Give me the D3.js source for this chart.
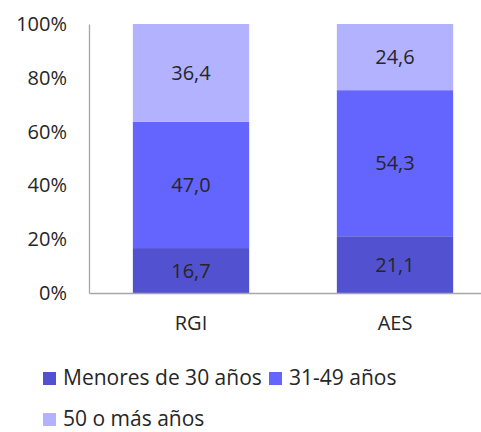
<!DOCTYPE html>
<html><head><meta charset="utf-8">
<script src="https://cdn.jsdelivr.net/npm/d3@7"></script>
<style>body{margin:0;background:#fff}svg{display:block}text{font-family:"Open Sans",sans-serif;fill:#262626}</style>
</head><body>
<script>
const categories = ["RGI", "AES"];
const seriesNames = ["Menores de 30 años", "31-49 años", "50 o más años"];
const menores30 = [16.7, 21.1];
const de31a49 = [47.0, 54.3];
const mas50 = [36.4, 24.6];
const yTicks = [0, 20, 40, 60, 80, 100];
const colors = ["#5252D0", "#6464FF", "#B2B2FF"];

const W = 481, H = 432;
const m = {left: 89, top: 24, bottom: 293, right: 497};
const svg = d3.select("body").append("svg").attr("width", W).attr("height", H);

const x = d3.scaleBand().domain(categories).range([m.left, m.right]).paddingInner(0.43).paddingOuter(0.215);
const y = d3.scaleLinear().domain([0, 100]).range([m.bottom, m.top]);

const rows = categories.map((c, i) => ({cat: c, s0: menores30[i], s1: de31a49[i], s2: mas50[i]}));
const stack = d3.stack().keys(["s0", "s1", "s2"]);
const layers = stack(rows);

layers.forEach((layer, li) => {
  const g = svg.append("g");
  g.selectAll("rect").data(layer).enter().append("rect")
    .attr("x", d => x(d.data.cat))
    .attr("width", x.bandwidth())
    .attr("y", d => y(Math.min(d[1], 100)))
    .attr("height", d => y(d[0]) - y(Math.min(d[1], 100)))
    .attr("fill", colors[li]);
  g.selectAll("text").data(layer).enter().append("text")
    .attr("x", d => x(d.data.cat) + x.bandwidth() / 2)
    .attr("y", d => (y(d[0]) + y(Math.min(d[1], 100))) / 2)
    .attr("dy", "0.36em")
    .attr("text-anchor", "middle")
    .style("font-size", "20px")
    .text(d => (d[1] - d[0]).toFixed(1).replace(".", ","));
});

// y axis
const yAxis = svg.append("g").attr("transform", `translate(${m.left},0)`)
  .call(d3.axisLeft(y).tickValues(yTicks).tickSize(0).tickPadding(22).tickFormat(d => d + "%"));
yAxis.select(".domain").attr("stroke", "#a6a6a6").attr("stroke-width", 1.3);
yAxis.selectAll("text").style("font-size", "20px").style("font-family", "'Open Sans', sans-serif").attr("fill", "#262626");

// x axis
const xAxis = svg.append("g").attr("transform", `translate(0,${m.bottom})`)
  .call(d3.axisBottom(x).tickSize(0).tickPadding(23));
xAxis.select(".domain").attr("stroke", "#a6a6a6").attr("stroke-width", 1.3);
xAxis.selectAll("text").style("font-size", "20px").style("font-family", "'Open Sans', sans-serif").attr("fill", "#262626");

// legend
const legendPos = [[43, 372], [269, 372], [43, 413]];
seriesNames.forEach((n, i) => {
  const g = svg.append("g").attr("transform", `translate(${legendPos[i][0]},${legendPos[i][1]})`);
  g.append("rect").attr("width", 13).attr("height", 13).attr("fill", colors[i]);
  g.append("text").attr("x", 20).attr("y", 13).attr("dy", "0").style("font-size", "21px").text(n);
});
</script>
</body></html>
